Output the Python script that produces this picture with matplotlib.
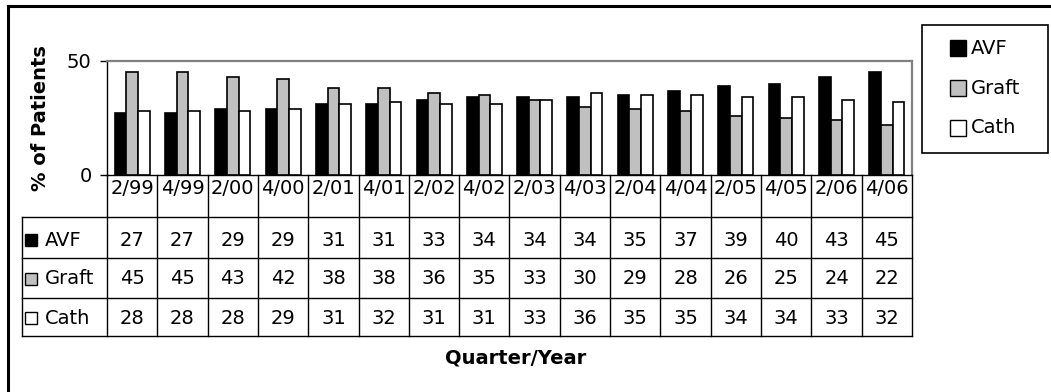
import matplotlib
matplotlib.use("Agg")
import matplotlib.pyplot as plt
from matplotlib.patches import Rectangle
from matplotlib.lines import Line2D
from matplotlib.transforms import blended_transform_factory

plt.rcParams["font.family"] = ["DejaVu Sans"]

quarters = ["2/99", "4/99", "2/00", "4/00", "2/01", "4/01", "2/02", "4/02",
            "2/03", "4/03", "2/04", "4/04", "2/05", "4/05", "2/06", "4/06"]
avf = [27, 27, 29, 29, 31, 31, 33, 34, 34, 34, 35, 37, 39, 40, 43, 45]
graft = [45, 45, 43, 42, 38, 38, 36, 35, 33, 30, 29, 28, 26, 25, 24, 22]
cath = [28, 28, 28, 29, 31, 32, 31, 31, 33, 36, 35, 35, 34, 34, 33, 32]

series_names = ["AVF", "Graft", "Cath"]
series_values = [avf, graft, cath]
series_colors = ["#000000", "#C0C0C0", "#FFFFFF"]

W, H = 1051, 392
FS = 14
fig = plt.figure(figsize=(W / 100, H / 100), dpi=100)
fig.patch.set_facecolor("white")


def fx(px):
    return px / W


def fy(py):
    return 1 - py / H


# plot area
ax = fig.add_axes([fx(107), fy(175), (912 - 107) / W, (175 - 61) / H])
n = len(quarters)
xs = list(range(n))
bw = 0.232
for k, (vals, col) in enumerate(zip(series_values, series_colors)):
    ax.bar([x + (k - 1) * bw for x in xs], vals, width=bw, color=col,
           edgecolor="black", linewidth=1.2, zorder=3)

ax.set_xlim(-0.5, n - 0.5)
ax.set_ylim(0, 50)
ax.set_yticks([0, 50])
ax.set_xticks([])
ax.tick_params(axis="y", direction="out", length=5, width=1, pad=6, labelsize=FS)
for s in ("top", "right"):
    ax.spines[s].set_color("#808080")
    ax.spines[s].set_linewidth(1.6)
for s in ("left", "bottom"):
    ax.spines[s].set_color("black")
    ax.spines[s].set_linewidth(1.0)
ax.set_ylabel("% of Patients", fontsize=FS, fontweight="bold", labelpad=12)

# data table below the plot
tr = blended_transform_factory(ax.transData, fig.transFigure)
row_lines_px = [217, 258, 298, 336]
for i in range(n + 1):
    fig.add_artist(Line2D([i - 0.5, i - 0.5], [fy(175), fy(336)], transform=tr,
                          color="black", linewidth=1.0))
for py in row_lines_px:
    fig.add_artist(Line2D([fx(22), fx(912)], [fy(py), fy(py)],
                          transform=fig.transFigure, color="black", linewidth=1.0))
fig.add_artist(Line2D([fx(22), fx(22)], [fy(217), fy(336)],
                      transform=fig.transFigure, color="black", linewidth=1.0))

for i, q in enumerate(quarters):
    fig.text(i, fy(188), q, transform=tr, ha="center", va="center", fontsize=FS)

row_centers = [240, 279, 318]
for vals, cy in zip(series_values, row_centers):
    for i, v in enumerate(vals):
        fig.text(i, fy(cy), str(v), transform=tr, ha="center", va="center", fontsize=FS)

# row labels with swatches
for name, col, cy in zip(series_names, series_colors, row_centers):
    fig.add_artist(Rectangle((fx(25), fy(cy + 6)), 12 / W, 12 / H,
                             transform=fig.transFigure, facecolor=col,
                             edgecolor="black", linewidth=1.0))
    fig.text(fx(45), fy(cy), name, ha="left", va="center", fontsize=FS)

fig.text(fx(516), fy(358), "Quarter/Year", ha="center", va="center",
         fontsize=FS, fontweight="bold")

# legend box
fig.add_artist(Rectangle((fx(922), fy(153)), 126 / W, 128 / H,
                         transform=fig.transFigure, facecolor="white",
                         edgecolor="black", linewidth=1.2))
for name, col, cy in zip(series_names, series_colors, [48, 88, 128]):
    fig.add_artist(Rectangle((fx(950), fy(cy + 8)), 16 / W, 16 / H,
                             transform=fig.transFigure, facecolor=col,
                             edgecolor="black", linewidth=1.0))
    fig.text(fx(971), fy(cy), name, ha="left", va="center", fontsize=FS)

# outer frame
fig.add_artist(Line2D([fx(8), fx(8)], [fy(6), 0], transform=fig.transFigure,
                      color="black", linewidth=2.2))
fig.add_artist(Line2D([fx(8), 1], [fy(6), fy(6)], transform=fig.transFigure,
                      color="black", linewidth=2.2))

fig.savefig("out.png", dpi=100)
